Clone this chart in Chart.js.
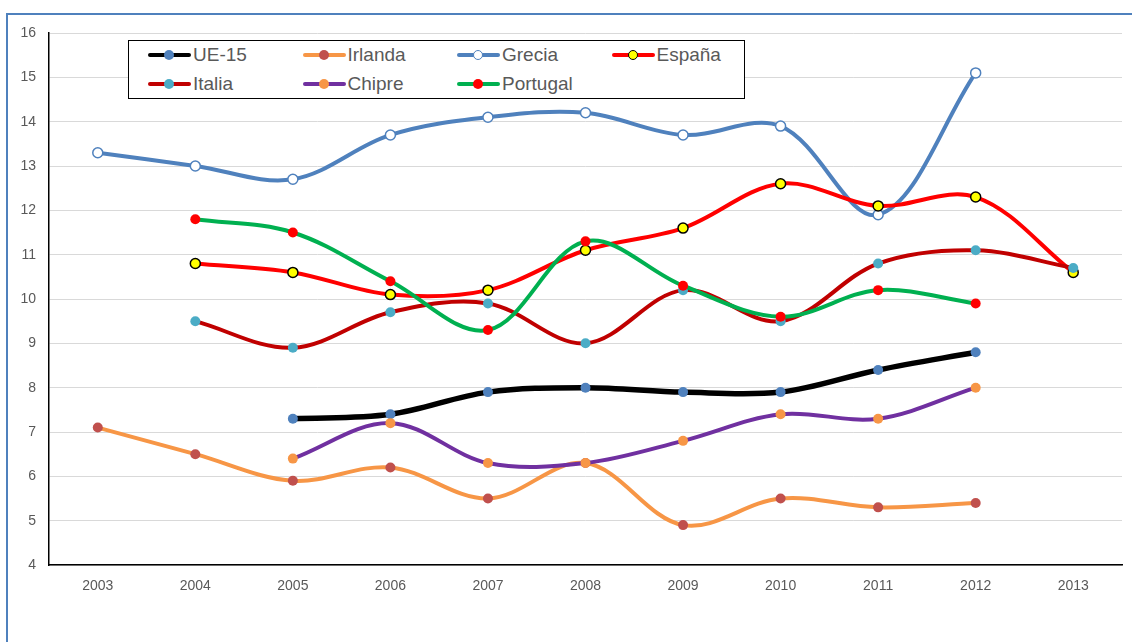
<!DOCTYPE html>
<html>
<head>
<meta charset="utf-8">
<script src="https://cdn.jsdelivr.net/npm/chart.js@4.4.1/dist/chart.umd.min.js"></script>
<style>
  html, body { margin: 0; padding: 0; background: #fff; }
  #wrap { position: relative; width: 1132px; height: 642px; overflow: hidden; }
  #frame {
    position: absolute; left: 6px; top: 13px; width: 1300px; height: 800px;
    border-left: 2px solid #4f81bd; border-top: 2px solid #4f81bd;
  }
  #chart { position: absolute; left: 0; top: 0; }
  #legend {
    position: absolute; left: 128px; top: 40px; width: 615px; height: 57px;
    border: 1px solid #000; background: #fff;
    font-family: "Liberation Sans", Arial, sans-serif; font-size: 19px; color: #595959;
  }
  .item { position: absolute; height: 24px; line-height: 24px; white-space: nowrap; }
  .sample { position: absolute; left: 0; top: 0; width: 43px; height: 24px; }
  .sample .ln { position: absolute; left: 0; right: 0; top: 10px; height: 4px; border-radius: 2px; }
  .sample .pt { position: absolute; left: 16px; top: 7px; width: 10px; height: 10px; border-radius: 50%; box-sizing: border-box; }
  .lbl { position: absolute; left: 45px; top: 0; }
</style>
</head>
<body>
<div id="wrap">
  <div id="frame"></div>
  <canvas id="chart" width="1132" height="642"></canvas>
  <div id="legend"></div>
</div>
<script>
const years = ["2003", "2004", "2005", "2006", "2007", "2008", "2009", "2010", "2011", "2012", "2013"];

const ue15     = [null, null, 7.3, 7.4, 7.9, 8.0, 7.9, 7.9, 8.4, 8.8, null];
const irlanda  = [7.1, 6.5, 5.9, 6.2, 5.5, 6.3, 4.9, 5.5, 5.3, 5.4, null];
const grecia   = [13.3, 13.0, 12.7, 13.7, 14.1, 14.2, 13.7, 13.9, 11.9, 15.1, null];
const espana   = [null, 10.8, 10.6, 10.1, 10.2, 11.1, 11.6, 12.6, 12.1, 12.3, 10.6];
const italia   = [null, 9.5, 8.9, 9.7, 9.9, 9.0, 10.2, 9.5, 10.8, 11.1, 10.7];
const chipre   = [null, null, 6.4, 7.2, 6.3, 6.3, 6.8, 7.4, 7.3, 8.0, null];
const portugal = [null, 11.8, 11.5, 10.4, 9.3, 11.3, 10.3, 9.6, 10.2, 9.9, null];

const seriesNames = ["UE-15", "Irlanda", "Grecia", "España", "Italia", "Chipre", "Portugal"];
const seriesData = [ue15, irlanda, grecia, espana, italia, chipre, portugal];

// line colour, marker fill, marker border
const styles = [
  { line: "#000000", fill: "#4f81bd", border: "#4f81bd", width: 5.5, pw: 0 },
  { line: "#f79646", fill: "#c0504d", border: "#c0504d", width: 4, pw: 0 },
  { line: "#4f81bd", fill: "#ffffff", border: "#4f81bd", width: 4, pw: 1.5 },
  { line: "#ff0000", fill: "#ffff00", border: "#000000", width: 4, pw: 1.5 },
  { line: "#c00000", fill: "#4bacc6", border: "#4bacc6", width: 4, pw: 0 },
  { line: "#7030a0", fill: "#f79646", border: "#f79646", width: 4, pw: 0 },
  { line: "#00b050", fill: "#ff0000", border: "#ff0000", width: 4, pw: 0 },
];

const datasets = seriesNames.map((name, i) => ({
  label: name,
  data: seriesData[i],
  borderColor: styles[i].line,
  borderWidth: styles[i].width,
  backgroundColor: styles[i].fill,
  pointBackgroundColor: styles[i].fill,
  pointBorderColor: styles[i].border,
  pointBorderWidth: styles[i].pw,
  pointRadius: 5,
  pointHoverRadius: 5,
  tension: 0.35,
  fill: false,
  borderCapStyle: "round",
  order: seriesNames.length - i, // later series on top, like the original
}));

// html legend in a bordered box
const legend = document.getElementById("legend");
seriesNames.forEach((name, i) => {
  const col = i % 4, row = Math.floor(i / 4);
  const item = document.createElement("div");
  item.className = "item";
  item.style.left = (19 + col * 154.5) + "px";
  item.style.top = (2 + row * 29) + "px";
  item.innerHTML =
    '<span class="sample"><span class="ln"></span><span class="pt"></span></span>' +
    '<span class="lbl"></span>';
  item.querySelector(".ln").style.background = styles[i].line;
  const pt = item.querySelector(".pt");
  pt.style.background = styles[i].fill;
  if (styles[i].pw) pt.style.border = "1.5px solid " + styles[i].border;
  item.querySelector(".lbl").textContent = name;
  legend.appendChild(item);
});

const ctx = document.getElementById("chart").getContext("2d");
new Chart(ctx, {
  type: "line",
  data: { labels: years, datasets: datasets },
  options: {
    responsive: false,
    animation: false,
    devicePixelRatio: 1,
    layout: { padding: { top: 33, right: 10, left: 0, bottom: 0 } },
    plugins: { legend: { display: false }, tooltip: { enabled: false } },
    scales: {
      x: {
        offset: true,
        grid: { display: false, drawTicks: false },
        border: { display: true, color: "#000000", width: 1.5 },
        ticks: {
          color: "#595959", padding: 13,
          font: { family: "'Liberation Sans', Arial, sans-serif", size: 14 },
        },
        afterFit: (s) => { s.height = 77; },
      },
      y: {
        min: 4, max: 16,
        grid: { color: "#d9d9d9", lineWidth: 1, drawTicks: false },
        border: { display: true, color: "#000000", width: 1.5 },
        ticks: {
          stepSize: 1, color: "#595959", padding: 13,
          font: { family: "'Liberation Sans', Arial, sans-serif", size: 14 },
        },
        afterFit: (s) => { s.width = 49; },
      },
    },
  },
});
</script>
</body>
</html>
